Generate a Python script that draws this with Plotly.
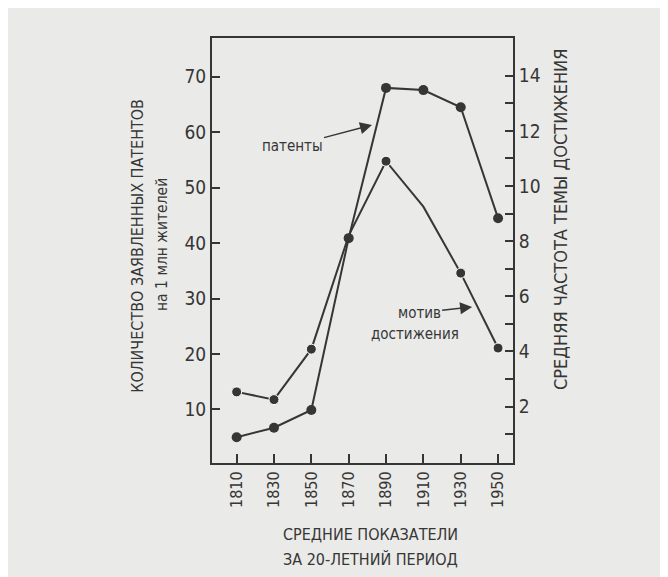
import plotly.graph_objects as go

years = [1810, 1830, 1850, 1870, 1890, 1910, 1930, 1950]
patents = [5.0, 6.7, 9.9, 40.9, 68.0, 67.6, 64.5, 44.5]
motive = [2.53, 2.25, 4.08, 8.2, 10.9, 9.25, 6.84, 4.12]
left_ticks = [10, 20, 30, 40, 50, 60, 70]
right_ticks = [2, 4, 6, 8, 10, 12, 14]
right_minor = [1, 3, 5, 7, 9, 11, 13]

INK = "#363636"
BG = "#eaeae8"
FONT = "Liberation Sans Narrow, Arial Narrow, DejaVu Sans Condensed, sans-serif"

fig = go.Figure()
fig.add_trace(go.Scatter(
    x=years, y=patents, mode="lines+markers", yaxis="y",
    line=dict(color=INK, width=2),
    marker=dict(color=INK, size=10, opacity=1),
    showlegend=False,
))
fig.add_trace(go.Scatter(
    x=years, y=motive, mode="lines+markers", yaxis="y2",
    line=dict(color=INK, width=2),
    marker=dict(color=INK, size=[10, 10, 10, 0, 10, 0, 10, 10], opacity=1),
    showlegend=False,
))

fig.update_layout(
    width=668, height=577,
    margin=dict(l=204, r=163, t=30, b=122),
    paper_bgcolor=BG, plot_bgcolor=BG,
    font=dict(family=FONT, color=INK, size=18),
    xaxis=dict(
        range=[1796.8, 1958], tickvals=years, tickangle=-90,
        ticks="inside", ticklen=9, tickwidth=2, tickcolor=INK,
        showline=True, linewidth=2, linecolor=INK, mirror=True,
        showgrid=False, zeroline=False,
        tickfont=dict(size=16, family=FONT, color=INK),
    ),
    yaxis=dict(
        range=[0.34, 77.0], tickvals=left_ticks,
        ticks="inside", ticklen=8, tickwidth=2, tickcolor=INK,
        showline=True, linewidth=2, linecolor=INK,
        showgrid=False, zeroline=False,
        tickfont=dict(size=19, family=FONT, color=INK),
    ),
    yaxis2=dict(
        range=[-0.05, 15.37], tickvals=right_ticks, overlaying="y", side="right",
        ticks="inside", ticklen=8, tickwidth=2, tickcolor=INK,
        minor=dict(tickvals=right_minor, ticks="inside", ticklen=8, tickwidth=2, tickcolor=INK),
        showline=True, linewidth=2, linecolor=INK,
        showgrid=False, zeroline=False,
        tickfont=dict(size=19, family=FONT, color=INK),
    ),
)

def label(text, x, y, size, angle=0):
    fig.add_annotation(text=text, xref="paper", yref="paper", x=x, y=y,
                       xanchor="center", yanchor="middle", textangle=angle,
                       showarrow=False, font=dict(size=size, family=FONT, color=INK))

# axis titles
label("КОЛИЧЕСТВО ЗАЯВЛЕННЫХ ПАТЕНТОВ", -0.246, 0.511, 16, -90)
label("на 1 млн жителей", -0.166, 0.513, 15.5, -90)
label("СРЕДНЯЯ ЧАСТОТА ТЕМЫ ДОСТИЖЕНИЯ", 1.156, 0.574, 18, -90)
label("СРЕДНИЕ ПОКАЗАТЕЛИ", 0.525, -0.169, 16)
label("ЗА 20-ЛЕТНИЙ ПЕРИОД", 0.525, -0.226, 16)

# series labels with arrows
fig.add_annotation(text="патенты", x=1882.5, y=61.3, xref="x", yref="y",
                   ax=-80, ay=21, showarrow=True, arrowhead=2, arrowsize=1.6,
                   arrowwidth=1.5, arrowcolor=INK,
                   font=dict(size=15, family=FONT, color=INK))
fig.add_annotation(text="мотив", x=1936.1, y=28.5, xref="x", yref="y",
                   ax=-53, ay=6, showarrow=True, arrowhead=2, arrowsize=1.6,
                   arrowwidth=1.5, arrowcolor=INK,
                   font=dict(size=15, family=FONT, color=INK))
fig.add_annotation(text="достижения", x=1905.5, y=23.6, xref="x", yref="y",
                   showarrow=False,
                   font=dict(size=15, family=FONT, color=INK))

fig.write_html("out.html")
